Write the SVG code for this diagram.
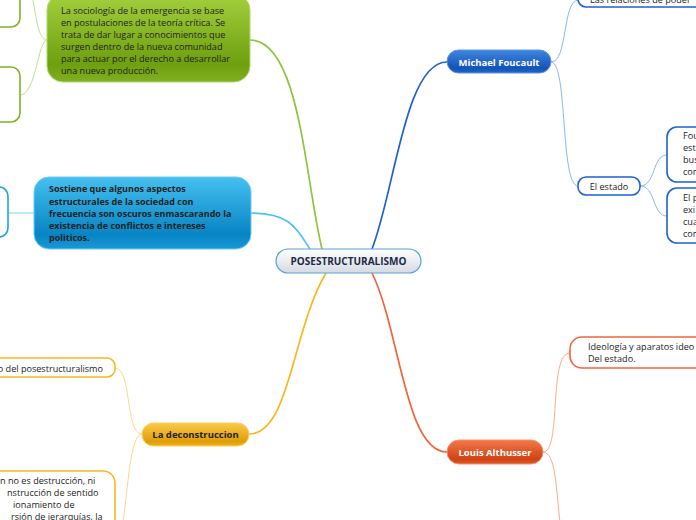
<svg xmlns="http://www.w3.org/2000/svg" width="696" height="520" viewBox="0 0 696 520">
<defs>
<linearGradient id="gC" x1="0" y1="0" x2="0" y2="1"><stop offset="0" stop-color="#ffffff"/><stop offset="1" stop-color="#d5dbe2"/></linearGradient>
<linearGradient id="gG" x1="0" y1="0" x2="0" y2="1"><stop offset="0" stop-color="#a4d03e"/><stop offset="0.8" stop-color="#6e9f0e"/><stop offset="1" stop-color="#80b022"/></linearGradient>
<linearGradient id="gB" x1="0" y1="0" x2="0" y2="1"><stop offset="0" stop-color="#45c0f0"/><stop offset="0.8" stop-color="#0784c4"/><stop offset="1" stop-color="#1a98d6"/></linearGradient>
<linearGradient id="gD" x1="0" y1="0" x2="0" y2="1"><stop offset="0" stop-color="#3f86e0"/><stop offset="0.8" stop-color="#1453b8"/><stop offset="1" stop-color="#2466c8"/></linearGradient>
<linearGradient id="gO" x1="0" y1="0" x2="0" y2="1"><stop offset="0" stop-color="#f5784a"/><stop offset="0.8" stop-color="#cf4314"/><stop offset="1" stop-color="#de5828"/></linearGradient>
<linearGradient id="gY" x1="0" y1="0" x2="0" y2="1"><stop offset="0" stop-color="#fbc94a"/><stop offset="0.8" stop-color="#e09e06"/><stop offset="1" stop-color="#ecb020"/></linearGradient>
</defs>
<style>
text{font-family:"Open Sans","Noto Sans","DejaVu Sans",sans-serif;font-size:9.1px;fill:#222}
.b{font-weight:bold;font-size:9px}
.w{fill:#fff;font-weight:bold;font-size:9.5px}
.c{text-anchor:middle}
.e{fill:none}
.sub{fill:#fff;stroke-width:1.6}
</style>
<g id="connectors" class="e">
<path d="M322,249 C305,180 300,40 250,40" stroke="#8cc43a" stroke-width="1.7"/>
<path d="M310,249 C296,228 290,213 251,213" stroke="#4cc0ee" stroke-width="1.7"/>
<path d="M372,249 C395,190 405,62 447,62" stroke="#1e62d0" stroke-width="1.7"/>
<path d="M372,273 C400,330 405,452 447,452" stroke="#f0643c" stroke-width="1.7"/>
<path d="M326,273 C292,330 290,434 249,434" stroke="#f5b820" stroke-width="1.7"/>
<path d="M47,40 C38,40 36,15 32,-5" stroke="#c2de8e" stroke-width="1"/>
<path d="M47,40 C38,40 36,95 20,95" stroke="#c2de8e" stroke-width="1"/>
<path d="M34,213 L8,213" stroke="#a8e0f6" stroke-width="1.5"/>
<path d="M551,62 C568,62 562,2 578,0" stroke="#8cb4ee" stroke-width="1"/>
<path d="M551,62 C568,62 560,186 578,186" stroke="#8cb4ee" stroke-width="1"/>
<path d="M640,186 C656,186 652,155 667,155" stroke="#8cb4ee" stroke-width="1"/>
<path d="M640,186 C656,186 652,216 667,216" stroke="#8cb4ee" stroke-width="1"/>
<path d="M543,452 C562,452 548,353 570,353" stroke="#f8ac90" stroke-width="1"/>
<path d="M543,452 C556,452 556,490 560,522" stroke="#f8ac90" stroke-width="1"/>
<path d="M142,434 C125,434 132,368 115,368" stroke="#fcd889" stroke-width="1"/>
<path d="M142,434 C130,434 128,490 123,522" stroke="#fcd889" stroke-width="1"/>
</g>
<g id="central">
<rect x="276" y="249" width="145" height="24" rx="12" fill="url(#gC)" stroke="#5aa0dc" stroke-width="1.2"/>
<text x="348.5" y="264.5" class="b c" style="font-size:10px;fill:#1c2a4a">POSESTRUCTURALISMO</text>
</g>
<g id="n-green">
<rect x="47" y="-6" width="203" height="88" rx="16" fill="url(#gG)" stroke="#b2d86a" stroke-width="1"/>
<text x="61" y="14">La sociología de la emergencia se base</text>
<text x="61" y="26">en postulaciones de la teoría crítica. Se</text>
<text x="61" y="38">trata de dar lugar a conocimientos que</text>
<text x="61" y="50">surgen dentro de la nueva comunidad</text>
<text x="61" y="62">para actuar por el derecho a desarrollar</text>
<text x="61" y="74">una nueva producción.</text>
</g>
<g id="n-green-sub1"><rect x="-20" y="-20" width="40" height="47" rx="9" class="sub" stroke="#7cb41e"/></g>
<g id="n-green-sub2"><rect x="-20" y="67" width="40" height="55" rx="9" class="sub" stroke="#7cb41e"/></g>
<g id="n-blue">
<rect x="34" y="177" width="217" height="72" rx="15" fill="url(#gB)" stroke="#6cccf2" stroke-width="1"/>
<text x="49" y="192" class="b">Sostiene que algunos aspectos</text>
<text x="49" y="204.5" class="b">estructurales de la sociedad con</text>
<text x="49" y="217" class="b">frecuencia son oscuros enmascarando la</text>
<text x="49" y="229" class="b">existencia de conflictos e intereses</text>
<text x="49" y="241" class="b">politicos.</text>
</g>
<g id="n-blue-sub"><rect x="-20" y="187" width="28" height="50" rx="9" class="sub" stroke="#1aa4e4"/></g>
<g id="n-foucault">
<rect x="447" y="50" width="104" height="23" rx="11.5" fill="url(#gD)" stroke="#5d96e4" stroke-width="1"/>
<text x="499" y="65.5" class="w c">Michael Foucault</text>
</g>
<g id="n-relaciones">
<rect x="578" y="-20" width="140" height="27" rx="8" class="sub" stroke="#1e62d0"/>
<text x="590" y="3">Las relaciones de poder</text>
</g>
<g id="n-estado">
<rect x="578" y="177" width="62" height="18" rx="8" class="sub" stroke="#1e62d0"/>
<text x="609" y="189.5" class="c">El estado</text>
</g>
<g id="n-estado-sub1">
<rect x="667" y="127" width="60" height="55" rx="10" class="sub" stroke="#1e62d0"/>
<text x="683" y="139">Fou</text><text x="683" y="151">est</text><text x="683" y="163">bus</text><text x="683" y="175">con</text>
</g>
<g id="n-estado-sub2">
<rect x="667" y="188" width="60" height="55" rx="10" class="sub" stroke="#1e62d0"/>
<text x="683" y="201">El p</text><text x="683" y="213">exi</text><text x="683" y="225">cua</text><text x="683" y="237">con</text>
</g>
<g id="n-althusser">
<rect x="447" y="440" width="96" height="24" rx="12" fill="url(#gO)" stroke="#f59070" stroke-width="1"/>
<text x="495" y="455.5" class="w c">Louis Althusser</text>
</g>
<g id="n-ideologia">
<rect x="570" y="337" width="150" height="31" rx="12" class="sub" stroke="#f0643c"/>
<text x="588" y="350">Ideología y aparatos ideo</text>
<text x="588" y="362">Del estado.</text>
</g>
<g id="n-deconstruccion">
<rect x="142" y="423" width="107" height="23" rx="11.5" fill="url(#gY)" stroke="#fcd060" stroke-width="1"/>
<text x="195.5" y="437.5" class="b c" style="font-size:9.5px">La deconstruccion</text>
</g>
<g id="n-decon-sub1">
<rect x="-30" y="358" width="145" height="19" rx="8" class="sub" stroke="#f5b820"/>
<text x="103" y="372" style="text-anchor:end">o del posestructuralismo</text>
</g>
<g id="n-decon-sub2">
<rect x="-30" y="471" width="145" height="70" rx="12" class="sub" stroke="#f5b820"/>
<text x="0" y="484">n no es destrucción, ni</text>
<text x="7" y="496">nstrucción de sentido</text>
<text x="13" y="508">ionamiento de</text>
<text x="11" y="520">rsión de jerarquías, la</text>
</g>
</svg>
